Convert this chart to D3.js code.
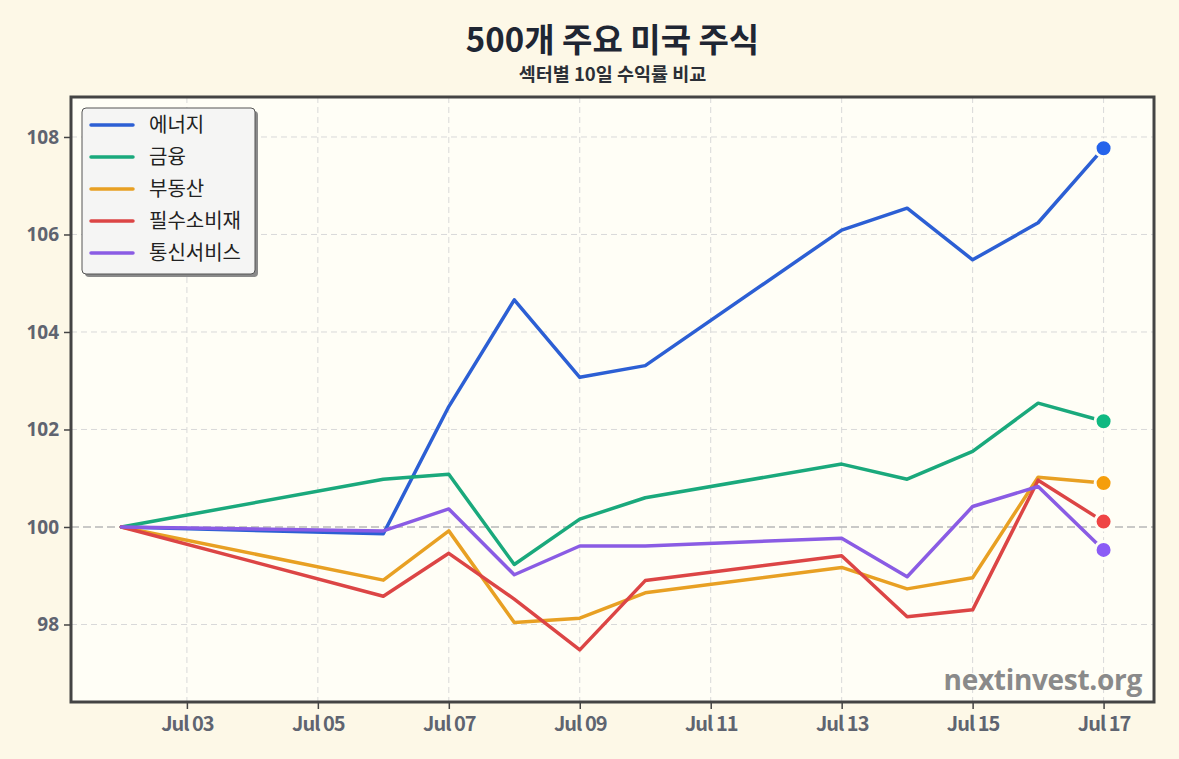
<!DOCTYPE html>
<html><head><meta charset="utf-8">
<script src="https://cdn.jsdelivr.net/npm/d3@7"></script>
<style>
html,body{margin:0;padding:0;background:#fdf8e7;}
svg{display:block;}
</style></head>
<body>
<svg id="chart" width="1179" height="759"></svg>
<script>
const dates = ["2020-07-02","2020-07-06","2020-07-07","2020-07-08","2020-07-09","2020-07-10","2020-07-13","2020-07-14","2020-07-15","2020-07-16","2020-07-17"];
const seriesNames = ["에너지","금융","부동산","필수소비재","통신서비스"];
const energy   = [100, 99.86, 102.47, 104.66, 103.07, 103.31, 106.09, 106.54, 105.48, 106.24, 107.77];
const finance  = [100, 100.98, 101.08, 99.23, 100.16, 100.60, 101.29, 100.98, 101.55, 102.54, 102.17];
const realty   = [100, 98.91, 99.92, 98.04, 98.13, 98.65, 99.17, 98.73, 98.96, 101.02, 100.90];
const staples  = [100, 98.58, 99.46, 98.52, 97.48, 98.90, 99.41, 98.16, 98.30, 100.96, 100.11];
const telecom  = [100, 99.92, 100.37, 99.02, 99.61, 99.61, 99.77, 98.98, 100.42, 100.83, 99.53];
const lineColors = ["#2c5fd4","#1aa97c","#e8a023","#dc4545","#8a5ce4"];
const dotColors  = ["#2563eb","#10b981","#f59e0b","#ef4444","#8b5cf6"];
const yTicks = [98,100,102,104,106,108];
const xTickLabels = ["Jul 03","Jul 05","Jul 07","Jul 09","Jul 11","Jul 13","Jul 15","Jul 17"];
const title = "500개 주요 미국 주식";
const subtitle = "섹터별 10일 수익률 비교";
const watermark = "nextinvest.org";

const values = [energy, finance, realty, staples, telecom];
const parse = d3.timeParse("%Y-%m-%d");
const dts = dates.map(parse);

const svg = d3.select("#chart");
const L = 71, R = 1154, T = 97, B = 702;
const CX = (L + R) / 2;
const day = 86400000;
const x0 = dts[0], x1 = dts[dts.length-1];
const padDays = 0.77;
const x = d3.scaleTime()
  .domain([new Date(+x0 - padDays*day), new Date(+x1 + padDays*day)])
  .range([L, R]);
const y = d3.scaleLinear().domain([96.41, 108.82]).range([B, T]);

const KR = "'Noto Sans CJK KR','Noto Sans',sans-serif";

// title
svg.append("text").attr("x", CX).attr("y", 52).attr("text-anchor","middle")
  .attr("font-family", KR).attr("font-weight", 700).attr("font-size", 33)
  .attr("fill", "#1f2633").text(title);
svg.append("text").attr("x", CX).attr("y", 81).attr("text-anchor","middle")
  .attr("font-family", KR).attr("font-weight", 700).attr("font-size", 18.5)
  .attr("fill", "#2b2f36").text(subtitle);

// plot background
svg.append("rect").attr("x", L).attr("y", T).attr("width", R-L).attr("height", B-T)
  .attr("fill", "#fffef6");

// grid
const xTickDates = xTickLabels.map(s => d3.timeParse("%b %d %Y")(s + " 2020"));
const grid = svg.append("g");
grid.selectAll(".vg").data(xTickDates).join("line")
  .attr("x1", d => x(d)).attr("x2", d => x(d)).attr("y1", T).attr("y2", B)
  .attr("stroke", "#d9d9d9").attr("stroke-width", 1).attr("stroke-dasharray", "6,4");
grid.selectAll(".hg").data(yTicks.filter(v => v !== 100)).join("line")
  .attr("x1", L).attr("x2", R).attr("y1", d => y(d)).attr("y2", d => y(d))
  .attr("stroke", "#d9d9d9").attr("stroke-width", 1).attr("stroke-dasharray", "6,4");
svg.append("line").attr("x1", L).attr("x2", R).attr("y1", y(100)).attr("y2", y(100))
  .attr("stroke", "#b8b8b8").attr("stroke-width", 1.5).attr("stroke-dasharray", "8,4");

// axes
const xAxis = d3.axisBottom(x).tickValues(xTickDates).tickFormat((d,i) => xTickLabels[i]).tickSize(7).tickPadding(4);
const gx = svg.append("g").attr("transform", `translate(0,${B})`).call(xAxis);
gx.select(".domain").remove();
gx.selectAll("line").attr("stroke", "#444").attr("stroke-width", 1.5);
gx.selectAll("text").attr("font-family", KR).attr("font-weight", 600).attr("font-size", 20)
  .attr("fill", "#5f6470").attr("dy", "0.9em").attr("letter-spacing", -1);

const yAxis = d3.axisLeft(y).tickValues(yTicks).tickFormat(d3.format("d")).tickSize(7).tickPadding(5);
const gy = svg.append("g").attr("transform", `translate(${L},0)`).call(yAxis);
gy.select(".domain").remove();
gy.selectAll("line").attr("stroke", "#444").attr("stroke-width", 1.5);
gy.selectAll("text").attr("font-family", "'Open Sans',sans-serif").attr("font-weight", 700).attr("font-size", 19).attr("fill", "#5f6470");

// lines
const line = d3.line().x((d,i) => x(dts[i])).y(d => y(d));
const lg = svg.append("g");
values.forEach((vals, k) => {
  lg.append("path").datum(vals).attr("d", line)
    .attr("fill", "none").attr("stroke", lineColors[k]).attr("stroke-width", 3.5)
    .attr("stroke-linejoin", "round").attr("stroke-linecap", "round");
});
values.forEach((vals, k) => {
  const n = vals.length - 1;
  lg.append("circle").attr("cx", x(dts[n])).attr("cy", y(vals[n])).attr("r", 8.5)
    .attr("fill", dotColors[k]).attr("stroke", "#fffef6").attr("stroke-width", 3);
});

// watermark
svg.append("text").attr("x", 1142).attr("y", 690).attr("text-anchor", "end")
  .attr("font-family", "'Open Sans',sans-serif").attr("font-weight", 700).attr("font-size", 28)
  .attr("fill", "#8a8a8a").attr("letter-spacing", -0.3).text(watermark);

// frame
svg.append("rect").attr("x", L).attr("y", T).attr("width", R-L).attr("height", B-T)
  .attr("fill", "none").attr("stroke", "#444").attr("stroke-width", 3);

// legend
const leg = svg.append("g");
leg.append("rect").attr("x", 85).attr("y", 111).attr("width", 173).attr("height", 166).attr("rx", 4)
  .attr("fill", "#8a8a8a");
leg.append("rect").attr("x", 82).attr("y", 108).attr("width", 173).attr("height", 166).attr("rx", 4)
  .attr("fill", "#f5f5f4").attr("stroke", "#555").attr("stroke-width", 1);
seriesNames.forEach((name, k) => {
  const yy = 125 + k * 32;
  leg.append("line").attr("x1", 91).attr("x2", 133).attr("y1", yy).attr("y2", yy)
    .attr("stroke", lineColors[k]).attr("stroke-width", 3.5).attr("stroke-linecap", "round");
  leg.append("text").attr("x", 149).attr("y", yy).attr("dy", "0.36em")
    .attr("font-family", KR).attr("font-size", 20).attr("fill", "#222").text(name);
});
</script>
</body></html>
